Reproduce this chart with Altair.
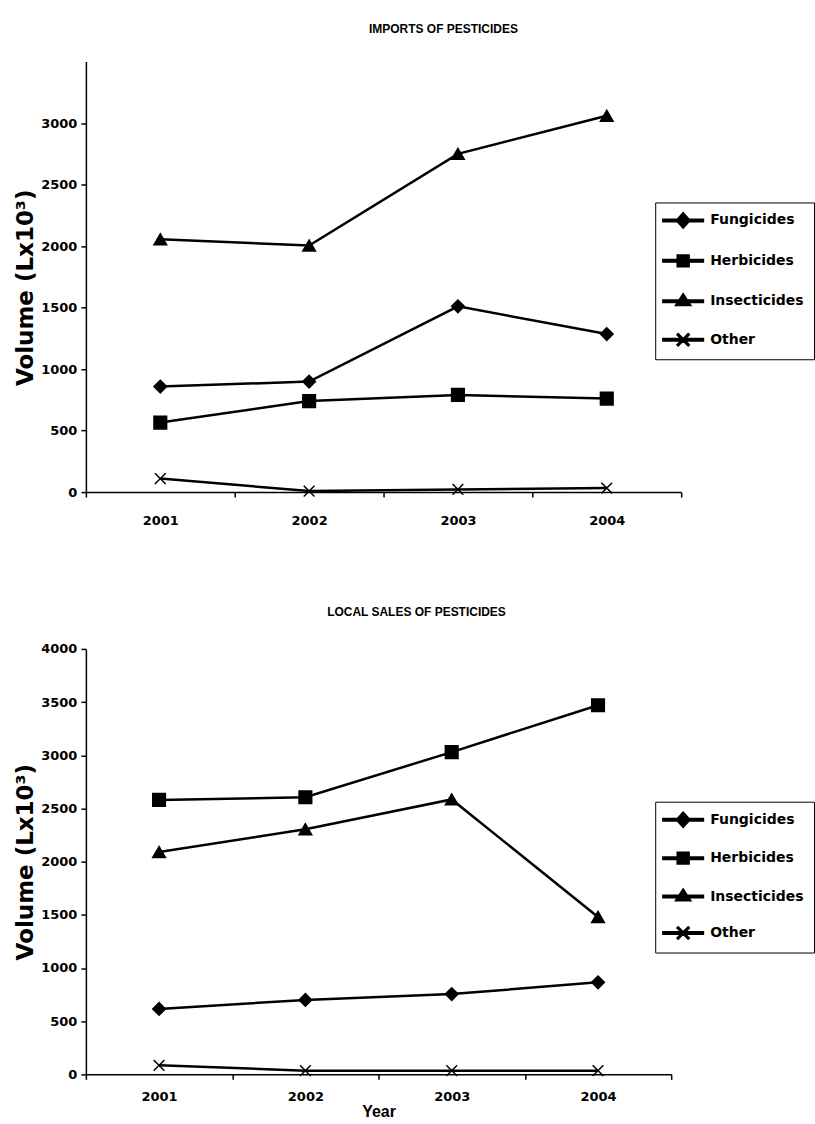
import altair as alt
import pandas as pd

years = ["2001", "2002", "2003", "2004"]
series = ["Fungicides", "Herbicides", "Insecticides", "Other"]

# Imports of pesticides (L x 10^3)
imp_fungicides = [858, 899, 1510, 1285]
imp_herbicides = [565, 740, 790, 760]
imp_insecticides = [2055, 2005, 2750, 3060]
imp_other = [110, 8, 22, 33]

# Local sales of pesticides (L x 10^3)
loc_fungicides = [615, 700, 755, 865]
loc_herbicides = [2580, 2605, 3030, 3470]
loc_insecticides = [2090, 2305, 2585, 1480]
loc_other = [85, 35, 35, 35]

imp_ticks = [0, 500, 1000, 1500, 2000, 2500, 3000]
loc_ticks = [0, 500, 1000, 1500, 2000, 2500, 3000, 3500, 4000]


def to_df(vals_list):
    rows = []
    for s, vals in zip(series, vals_list):
        for yr, v in zip(years, vals):
            rows.append({"Year": yr, "Series": s, "Volume": v})
    return pd.DataFrame(rows)


POINT_SHAPES = ["diamond", "square", "triangle-up",
                "M-0.85,-0.85L0.85,0.85M-0.85,0.85L0.85,-0.85"]
BAR = "M-2.9,-0.18H2.9V0.18H-2.9Z"
LEGEND_SHAPES = [
    BAR + "M-1,0L0,-1.1L1,0L0,1.1Z",
    BAR + "M-0.85,-0.85H0.85V0.85H-0.85Z",
    BAR + "M-1.1,0.6L0,-1.1L1.1,0.6Z",
    BAR + "M-0.715,-0.885L0.885,0.715L0.715,0.885L-0.885,-0.715Z"
          "M-0.885,0.715L0.715,-0.885L0.885,-0.715L-0.715,0.885Z",
]


def panel(df, title, ymax, yvalues, width, height, lx, ly, rowpad,
          title_dx, title_offset, xtitle, xlabelpad, ytitle_y):
    xaxis_kw = dict(labelAngle=0, tickBand="extent", labelPadding=xlabelpad)
    if xtitle:
        xaxis_kw.update(title=xtitle, titleFont="Liberation Sans", titleFontSize=16,
                        titleFontWeight="bold", titleColor="black", titlePadding=0)
    else:
        xaxis_kw.update(title=None)
    x = alt.X("Year:N",
              scale=alt.Scale(type="band", paddingInner=0, paddingOuter=0),
              axis=alt.Axis(**xaxis_kw))
    y = alt.Y("Volume:Q",
              scale=alt.Scale(domain=[0, ymax], nice=False, zero=True),
              axis=alt.Axis(values=yvalues, format="d", title="Volume (Lx10³)",
                            titleFont="DejaVu Sans", titleFontSize=23,
                            titleFontWeight="bold", titleColor="black",
                            titlePadding=3, labelPadding=4, titleY=ytitle_y))
    base = alt.Chart(df)
    line = base.mark_line(color="black", strokeWidth=2.5).encode(
        x=x, y=y, detail="Series:N")
    pts = base.mark_point(fill="black", stroke="black", strokeWidth=1.5,
                          size=160, opacity=1, fillOpacity=1).encode(
        x=x, y=y,
        shape=alt.Shape("Series:N",
                        scale=alt.Scale(domain=series, range=POINT_SHAPES),
                        legend=None))
    ghost = base.mark_point(fill="black", stroke="black", size=196,
                            opacity=0).encode(
        x=x, y=y,
        shape=alt.Shape("Series:N",
                        scale=alt.Scale(domain=series, range=LEGEND_SHAPES),
                        legend=alt.Legend(
                            title=None, orient="none", legendX=lx, legendY=ly,
                            strokeColor="black", padding=10,
                            symbolSize=196, symbolOffset=10, labelOffset=19,
                            rowPadding=rowpad, symbolFillColor="black",
                            symbolOpacity=1, labelFont="DejaVu Sans",
                            labelFontSize=14, labelFontWeight="bold",
                            labelColor="black")))
    return alt.layer(line, pts, ghost).resolve_scale(shape="independent").properties(
        width=width, height=height,
        title=alt.TitleParams(title, font="Liberation Sans", fontSize=12,
                              fontWeight="bold", color="black", anchor="middle",
                              dx=title_dx, offset=title_offset))


top = panel(to_df([imp_fungicides, imp_herbicides, imp_insecticides, imp_other]),
            "IMPORTS OF PESTICIDES", 3500, imp_ticks, 596, 431,
            570, 141, 20.5, 60, 26, None, 17, 226)
bottom = panel(to_df([loc_fungicides, loc_herbicides, loc_insecticides, loc_other]),
               "LOCAL SALES OF PESTICIDES", 4000, loc_ticks, 586, 426,
               570, 153, 18.5, 38, 24, "Year", 11, 213)

chart = alt.vconcat(top, bottom, spacing=79).properties(
    padding={"left": 14, "top": 22, "right": 0, "bottom": 0},
    background="white"
).configure_view(stroke=None).configure_axis(
    grid=False, domainColor="black", domainWidth=1.5, tickColor="black",
    tickWidth=1.5, tickSize=5, labelFont="DejaVu Sans", labelFontSize=13,
    labelFontWeight="bold", labelColor="black"
)

chart.save("out.html", embed_options={"renderer": "svg", "actions": False})
